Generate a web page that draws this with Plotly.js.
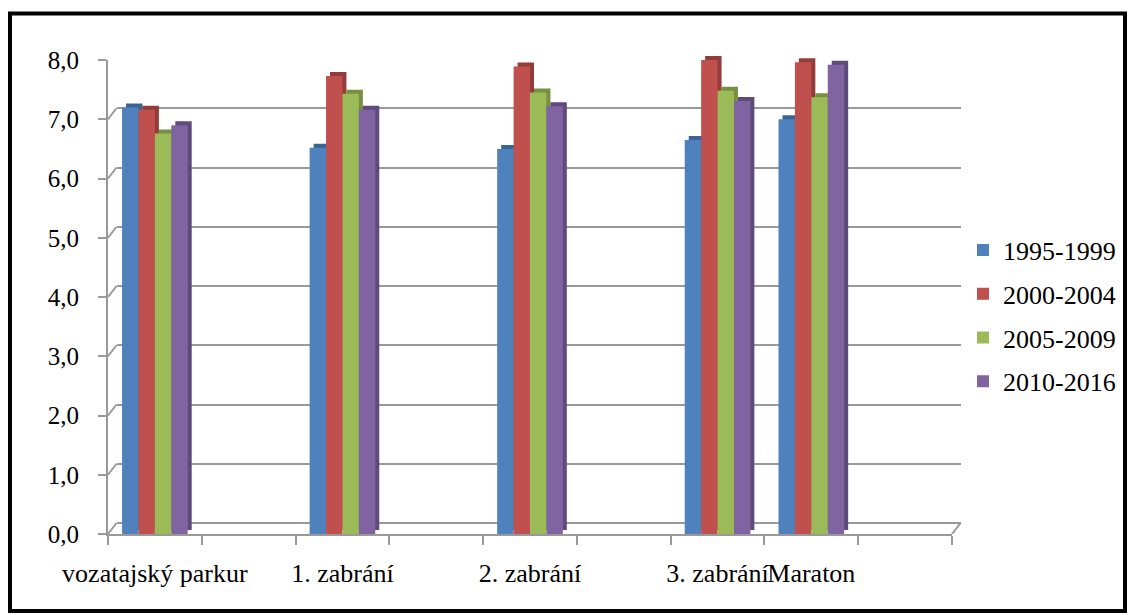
<!DOCTYPE html>
<html>
<head>
<meta charset="utf-8">
<script src="https://cdn.plot.ly/plotly-3.0.1.min.js"></script>
<style>
  html, body { margin: 0; padding: 0; background: #ffffff; }
  #chart { width: 1131px; height: 615px; }
</style>
</head>
<body>
<div id="chart"></div>
<script>
// Disciplines (blank slots keep the spacing between groups)
const categories = ['vozatajský parkur', ' ', '1. zabrání', '  ', '2. zabrání', '   ', '3. zabrání', 'Maraton', '    '];

// Series values per period
const seriesNames = ['1995-1999', '2000-2004', '2005-2009', '2010-2016'];
const v1995_1999 = [7.2, 0, 6.52, 0, 6.5, 0, 6.65, 7.0, 0];
const v2000_2004 = [7.16, 0, 7.73, 0, 7.89, 0, 8.0, 7.96, 0];
const v2005_2009 = [6.76, 0, 7.43, 0, 7.45, 0, 7.48, 7.37, 0];
const v2010_2016 = [6.9, 0, 7.16, 0, 7.22, 0, 7.31, 7.92, 0];

// Value axis ticks
const yTicks = [0, 1, 2, 3, 4, 5, 6, 7, 8];

const seriesValues = [v1995_1999, v2000_2004, v2005_2009, v2010_2016];
const faceColors = ['#4F81BD', '#C0504D', '#9BBB59', '#8064A2'];
const sideColors = ['#3A6494', '#943C3A', '#76903F', '#5F4A7C'];

// Page geometry in pixels
const W = 1131, H = 615;
const px = v => v / W;
const py = v => (H - v) / H;

const front = { left: 108, right: 952, bottom: 534, top: 60 };
const depthBar = { dx: 4, dy: 4 };     // extrusion of the columns
const depthWall = { dx: 8.5, dy: 11 }; // back wall offset
const GRID = '#999999';
const FONT = 'Liberation Serif';

const traces = [];

// Back wall (subplot xy): carries only the gridlines
traces.push({
  type: 'scatter', x: [], y: [], xaxis: 'x', yaxis: 'y',
  showlegend: false, hoverinfo: 'skip'
});

// Darker extruded copies (subplot x2y2), behind the column faces
seriesValues.forEach((vals, i) => {
  traces.push({
    type: 'bar', x: categories, y: vals,
    xaxis: 'x2', yaxis: 'y2',
    marker: { color: sideColors[i], line: { width: 0 } },
    showlegend: false, hoverinfo: 'skip', cliponaxis: false
  });
});

// Column faces (subplot x3y3) with the visible axes
seriesValues.forEach((vals, i) => {
  traces.push({
    type: 'bar', x: categories, y: vals, name: seriesNames[i],
    xaxis: 'x3', yaxis: 'y3',
    legendgroup: 'g' + i,
    marker: { color: faceColors[i], line: { width: 0 } },
    hoverinfo: 'skip', cliponaxis: false
  });
});

const shapes = [];
// Connectors from the front axis ticks to the back gridlines
yTicks.forEach(v => {
  shapes.push({
    type: 'line', xref: 'paper', yref: 'y3',
    x0: px(front.left), x1: px(front.left + depthWall.dx),
    ysizemode: 'pixel', yanchor: v, y0: 0, y1: depthWall.dy,
    line: { color: GRID, width: 2 }, layer: 'below'
  });
});
// Right edge of the floor
shapes.push({
  type: 'line', xref: 'paper', yref: 'y3',
  x0: px(front.right), x1: px(front.right + depthWall.dx),
  ysizemode: 'pixel', yanchor: 0, y0: 0, y1: depthWall.dy,
  line: { color: GRID, width: 2 }, layer: 'below'
});
// Outer frame
shapes.push({
  type: 'rect', xref: 'paper', yref: 'paper',
  x0: px(10), x1: px(1125), y0: py(611), y1: py(13.5),
  line: { color: '#000000', width: 4 }, layer: 'above'
});

const layout = {
  width: W, height: H,
  margin: { l: 0, r: 0, t: 0, b: 0, pad: 0 },
  paper_bgcolor: '#ffffff', plot_bgcolor: 'rgba(0,0,0,0)',
  separators: ', ',
  barmode: 'group', bargap: 0.3, bargroupgap: 0,
  hovermode: false,
  showlegend: true,
  font: { family: FONT, color: '#000000', size: 25 },
  // back wall
  xaxis: {
    anchor: 'y', fixedrange: true, range: [-0.5, 8.5],
    domain: [px(front.left + depthWall.dx), px(front.right + depthWall.dx)],
    showgrid: false, zeroline: false, showline: false,
    showticklabels: false, ticks: ''
  },
  yaxis: {
    anchor: 'x', fixedrange: true, range: [0, 8], tickvals: yTicks,
    domain: [py(front.bottom - depthWall.dy), py(front.top - depthWall.dy)],
    showgrid: true, gridcolor: GRID, gridwidth: 2,
    zeroline: true, zerolinecolor: GRID, zerolinewidth: 2,
    showline: false, showticklabels: false, ticks: ''
  },
  // column extrusion
  xaxis2: {
    type: 'category', visible: false, fixedrange: true, anchor: 'y2',
    domain: [px(front.left + depthBar.dx), px(front.right + depthBar.dx)]
  },
  yaxis2: {
    visible: false, fixedrange: true, range: [0, 8], anchor: 'x2',
    domain: [py(front.bottom - depthBar.dy), py(front.top - depthBar.dy)]
  },
  // front plane
  xaxis3: {
    type: 'category', anchor: 'y3', fixedrange: true,
    domain: [px(front.left), px(front.right)],
    tickson: 'boundaries', ticks: 'outside', ticklen: 9, tickwidth: 2, tickcolor: GRID,
    showline: true, linecolor: GRID, linewidth: 2,
    showgrid: false, zeroline: false,
    tickangle: 0, ticklabelstandoff: 15,
    tickfont: { family: FONT, size: 26, color: '#000000' }
  },
  yaxis3: {
    anchor: 'x3', side: 'left', fixedrange: true,
    range: [0, 8], tickvals: yTicks, tickformat: '.1f',
    domain: [py(front.bottom), py(front.top)],
    ticks: 'outside', ticklen: 8, tickwidth: 2, tickcolor: GRID,
    showline: true, linecolor: GRID, linewidth: 2,
    showgrid: false, zeroline: false,
    ticklabelstandoff: 14,
    tickfont: { family: FONT, size: 25, color: '#000000' }
  },
  legend: {
    x: px(963), xanchor: 'left', y: py(316), yanchor: 'middle',
    bgcolor: 'rgba(0,0,0,0)', borderwidth: 0,
    tracegroupgap: 7,
    font: { family: FONT, size: 26, color: '#000000' }
  },
  shapes: shapes
};

Plotly.newPlot('chart', traces, layout, { displayModeBar: false, staticPlot: true });
</script>
</body>
</html>
